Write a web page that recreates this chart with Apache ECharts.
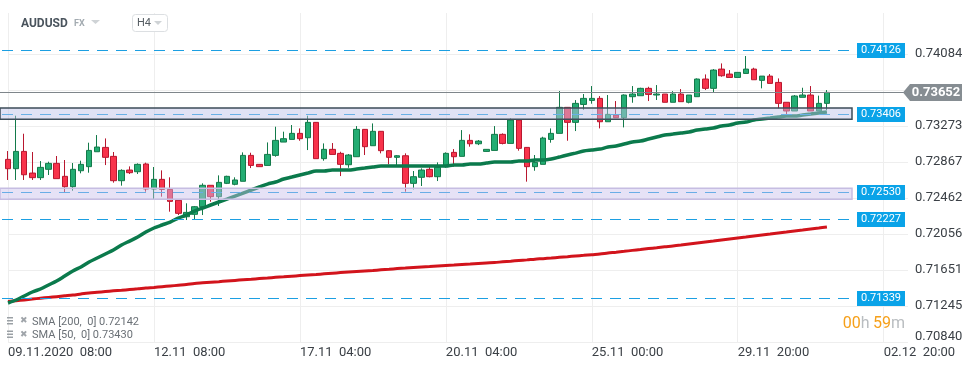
<!DOCTYPE html>
<html>
<head>
<meta charset="utf-8">
<script src="https://cdn.jsdelivr.net/npm/echarts@6/dist/echarts.min.js"></script>
<style>
html,body{margin:0;padding:0;background:#fff;}
#chart{width:974px;height:368px;}
</style>
</head>
<body>
<div id="chart"></div>
<script>
// ---------- DATA ----------
const categories = [
  "09.11 08:00","09.11 12:00","09.11 16:00","09.11 20:00",
  "10.11 00:00","10.11 04:00","10.11 08:00","10.11 12:00","10.11 16:00","10.11 20:00",
  "11.11 00:00","11.11 04:00","11.11 08:00","11.11 12:00","11.11 16:00","11.11 20:00",
  "12.11 00:00","12.11 04:00","12.11 08:00","12.11 12:00","12.11 16:00","12.11 20:00",
  "13.11 00:00","13.11 04:00","13.11 08:00","13.11 12:00","13.11 16:00","13.11 20:00",
  "15.11 20:00",
  "16.11 00:00","16.11 04:00","16.11 08:00","16.11 12:00","16.11 16:00","16.11 20:00",
  "17.11 00:00","17.11 04:00","17.11 08:00","17.11 12:00","17.11 16:00","17.11 20:00",
  "18.11 00:00","18.11 04:00","18.11 08:00","18.11 12:00","18.11 16:00","18.11 20:00",
  "19.11 00:00","19.11 04:00","19.11 08:00","19.11 12:00","19.11 16:00","19.11 20:00",
  "20.11 00:00","20.11 04:00","20.11 08:00","20.11 12:00","20.11 16:00","20.11 20:00",
  "22.11 20:00",
  "23.11 00:00","23.11 04:00","23.11 08:00","23.11 12:00","23.11 16:00","23.11 20:00",
  "24.11 00:00","24.11 04:00","24.11 08:00","24.11 12:00","24.11 16:00","24.11 20:00",
  "25.11 00:00","25.11 04:00","25.11 08:00","25.11 12:00","25.11 16:00","25.11 20:00",
  "26.11 00:00","26.11 04:00","26.11 08:00","26.11 12:00","26.11 16:00","26.11 20:00",
  "27.11 00:00","27.11 04:00","27.11 08:00","27.11 12:00","27.11 16:00","27.11 20:00",
  "29.11 20:00",
  "30.11 00:00","30.11 04:00","30.11 08:00","30.11 12:00","30.11 16:00","30.11 20:00",
  "01.12 00:00","01.12 04:00","01.12 08:00","01.12 12:00","01.12 16:00","01.12 20:00",
  "02.12 00:00","02.12 04:00","02.12 08:00","02.12 12:00","02.12 16:00","02.12 20:00",
  "03.12 00:00","03.12 04:00","03.12 08:00"
];
const firstLabel = "09.11.2020  08:00";

const opens = [
  0.72897,0.72792,0.72987,0.72743,0.72691,0.72785,0.72852,0.72706,0.72589,0.72769,
  0.72815,0.72983,0.73032,0.72931,0.72657,0.72777,0.72758,0.72845,0.72563,0.72672,
  0.72559,0.72436,0.72251,0.72278,0.72364,0.72605,0.72477,0.72627,0.72616,0.72650,
  0.72942,0.72841,0.72829,0.72942,0.73092,0.73122,0.73190,0.73141,0.73314,0.72905,
  0.73010,0.72965,0.72837,0.72927,0.73235,0.73051,0.73213,0.72995,0.72920,0.72938,
  0.72627,0.72695,0.72785,0.72702,0.72815,0.72976,0.72931,0.73111,0.73073,0.72987,
  0.72998,0.73179,0.73077,0.73340,0.73032,0.72815,0.72841,0.73122,0.73190,0.73483,
  0.73314,0.73516,0.73561,0.73584,0.73321,0.73396,0.73366,0.73603,0.73614,0.73697,
  0.73622,0.73633,0.73540,0.73633,0.73540,0.73603,0.73802,0.73697,0.73914,0.73858,
  0.73820,0.73865,0.73914,0.73787,0.73835,0.73764,0.73540,0.73442,0.73596,0.73622,
  0.73442,0.73528
];
const closes = [
  0.72792,0.72987,0.72724,0.72691,0.72807,0.72852,0.72680,0.72589,0.72785,0.72841,
  0.72998,0.73036,0.72920,0.72657,0.72773,0.72747,0.72841,0.72563,0.72672,0.72559,
  0.72424,0.72289,0.72300,0.72364,0.72605,0.72477,0.72638,0.72706,0.72665,0.72942,
  0.72829,0.72815,0.72953,0.73111,0.73130,0.73190,0.73130,0.73314,0.72905,0.73010,
  0.72953,0.72841,0.72946,0.73235,0.73040,0.73213,0.72995,0.72920,0.72938,0.72627,
  0.72702,0.72777,0.72702,0.72807,0.72965,0.72927,0.73111,0.73073,0.73103,0.73010,
  0.73179,0.73077,0.73340,0.73021,0.72815,0.72863,0.73137,0.73190,0.73483,0.73314,
  0.73528,0.73584,0.73584,0.73321,0.73404,0.73366,0.73622,0.73633,0.73697,0.73629,
  0.73633,0.73540,0.73633,0.73547,0.73622,0.73802,0.73697,0.73903,0.73839,0.73820,
  0.73877,0.73914,0.73794,0.73835,0.73753,0.73528,0.73442,0.73611,0.73622,0.73442,
  0.73528,0.73652
];
const lows = [
  0.72665,0.72665,0.72665,0.72665,0.72665,0.72721,0.72680,0.72526,0.72544,0.72740,
  0.72747,0.72983,0.72833,0.72635,0.72601,0.72732,0.72732,0.72533,0.72451,0.72477,
  0.72308,0.72270,0.72214,0.72225,0.72270,0.72420,0.72372,0.72619,0.72605,0.72650,
  0.72799,0.72815,0.72829,0.72927,0.73092,0.73122,0.73107,0.73002,0.72905,0.72882,
  0.72953,0.72709,0.72803,0.72927,0.72946,0.73051,0.72965,0.72841,0.72833,0.72533,
  0.72559,0.72597,0.72695,0.72653,0.72803,0.72815,0.72931,0.73040,0.73058,0.72983,
  0.72998,0.73066,0.73077,0.72995,0.72646,0.72769,0.72841,0.73085,0.73190,0.73107,
  0.73216,0.73456,0.73524,0.73246,0.73321,0.73366,0.73257,0.73535,0.73614,0.73554,
  0.73566,0.73540,0.73540,0.73547,0.73528,0.73603,0.73678,0.73648,0.73828,0.73820,
  0.73820,0.73865,0.73794,0.73697,0.73753,0.73472,0.73396,0.73442,0.73596,0.73442,
  0.73442,0.73453
];
const highs = [
  0.72991,0.73389,0.73186,0.72980,0.72878,0.72871,0.72935,0.72890,0.72856,0.72882,
  0.73085,0.73171,0.73133,0.72980,0.72785,0.72818,0.72852,0.72860,0.72811,0.72773,
  0.72695,0.72436,0.72402,0.72372,0.72627,0.72605,0.72717,0.72713,0.72695,0.72976,
  0.72972,0.72845,0.73088,0.73265,0.73209,0.73284,0.73246,0.73389,0.73317,0.73077,
  0.73081,0.72983,0.72957,0.73272,0.73239,0.73302,0.73216,0.73002,0.72946,0.72965,
  0.72766,0.72796,0.72833,0.72863,0.72976,0.73013,0.73227,0.73179,0.73115,0.73013,
  0.73272,0.73190,0.73359,0.73344,0.73036,0.72946,0.73152,0.73246,0.73667,0.73486,
  0.73565,0.73633,0.73723,0.73610,0.73622,0.73554,0.73629,0.73723,0.73704,0.73715,
  0.73734,0.73633,0.73666,0.73689,0.73622,0.73809,0.73854,0.73914,0.73978,0.73903,
  0.73877,0.74061,0.73929,0.73835,0.73858,0.73809,0.73540,0.73622,0.73704,0.73723,
  0.73615,0.73678
];
const sma50 = [
  0.71279,0.71313,0.71358,0.71403,0.71437,0.71482,0.71527,0.71583,0.71640,0.71685,
  0.71741,0.71786,0.71831,0.71876,0.71932,0.71977,0.72022,0.72079,0.72124,0.72158,
  0.72191,0.72236,0.72270,0.72315,0.72349,0.72383,0.72417,0.72450,0.72484,0.72518,
  0.72552,0.72586,0.72619,0.72642,0.72676,0.72698,0.72721,0.72743,0.72766,0.72766,
  0.72777,0.72777,0.72777,0.72788,0.72799,0.72811,0.72822,0.72822,0.72822,0.72822,
  0.72822,0.72822,0.72822,0.72822,0.72822,0.72833,0.72833,0.72844,0.72844,0.72856,
  0.72867,0.72867,0.72867,0.72878,0.72878,0.72890,0.72890,0.72901,0.72923,0.72946,
  0.72968,0.72991,0.73002,0.73013,0.73036,0.73047,0.73070,0.73092,0.73103,0.73126,
  0.73149,0.73171,0.73182,0.73194,0.73205,0.73227,0.73239,0.73250,0.73272,0.73284,
  0.73306,0.73317,0.73340,0.73351,0.73362,0.73374,0.73385,0.73385,0.73396,0.73407,
  0.73419,0.73430
];
const sma200 = [
  0.71296,0.71305,0.71314,0.71324,0.71333,0.71342,0.71351,0.71360,0.71369,0.71381,
  0.71392,0.71400,0.71408,0.71416,0.71423,0.71431,0.71439,0.71448,0.71455,0.71463,
  0.71471,0.71479,0.71487,0.71500,0.71507,0.71514,0.71520,0.71527,0.71534,0.71541,
  0.71547,0.71554,0.71561,0.71568,0.71574,0.71581,0.71588,0.71595,0.71601,0.71608,
  0.71615,0.71622,0.71628,0.71634,0.71640,0.71646,0.71653,0.71660,0.71667,0.71673,
  0.71679,0.71685,0.71690,0.71696,0.71702,0.71707,0.71713,0.71718,0.71724,0.71730,
  0.71735,0.71743,0.71750,0.71758,0.71765,0.71773,0.71779,0.71786,0.71794,0.71801,
  0.71809,0.71816,0.71824,0.71831,0.71842,0.71851,0.71861,0.71872,0.71882,0.71892,
  0.71902,0.71912,0.71921,0.71932,0.71944,0.71955,0.71966,0.71977,0.71989,0.72000,
  0.72011,0.72022,0.72034,0.72045,0.72056,0.72068,0.72079,0.72090,0.72101,0.72113,
  0.72124,0.72135
];
const priceTicks = ["0.70840","0.71245","0.71651","0.72056","0.72462","0.72867","0.73273","0.73678","0.74084"];
const hiddenTick = "0.73678";
const levelLines = [0.74126, 0.73406, 0.72530, 0.72227, 0.71339];
const levelLabels = ["0.74126","0.73406","0.72530","0.72227","0.71339"];
const zoneUpper = [0.73348, 0.73475];
const zoneLower = [0.72447, 0.72571];
const lastPrice = 0.73652;
const lastPriceLabel = "0.73652";
const legendRows = ["SMA [200,  0] 0.72142", "SMA [50,  0] 0.73430"];

// ---------- AXIS MAPPING ----------
const AX_MIN = parseFloat(priceTicks[0]);
const AX_STEP = (parseFloat(priceTicks[8]) - AX_MIN) / 8;
const toU = v => (v - AX_MIN) / AX_STEP;

const GRID = {left: 8, top: 13, width: 900, height: 329};
const PX_PER_TICK = 36;
const Y_MAX = GRID.height / PX_PER_TICK;

const candleData = opens.map((o, i) => [toU(o), toU(closes[i]), toU(lows[i]), toU(highs[i])]);

const chart = echarts.init(document.getElementById('chart'), null, {renderer: 'canvas'});
const FONT = 'Roboto, "Noto Sans", sans-serif';

const splitColors = [];
for (let i = 0; i <= 8; i++) splitColors.push('#eeeeee');
splitColors.push('rgba(0,0,0,0)', 'rgba(0,0,0,0)', 'rgba(0,0,0,0)');

chart.setOption({
  animation: false,
  backgroundColor: '#ffffff',
  grid: GRID,
  xAxis: {
    type: 'category',
    data: categories,
    boundaryGap: false,
    axisLine: {show: false},
    axisTick: {show: false},
    axisLabel: {
      interval: 17,
      align: 'left',
      margin: 4,
      color: '#3b4046',
      fontSize: 13,
      fontFamily: FONT,
      formatter: (val, idx) => idx === 0 ? firstLabel : val.replace(' ', '  ')
    },
    splitLine: {show: true, interval: 17, lineStyle: {color: '#eeeeee', width: 1}}
  },
  yAxis: {
    type: 'value',
    position: 'right',
    min: 0,
    max: Y_MAX,
    interval: 1,
    axisLine: {show: false},
    axisTick: {show: false},
    axisLabel: {
      margin: 7,
      color: '#3b4046',
      fontSize: 13,
      fontFamily: FONT,
      formatter: val => {
        const r = Math.round(val);
        if (Math.abs(val - r) > 1e-6) return '';
        const t = priceTicks[r];
        if (!t || t === hiddenTick) return '';
        return r === 0 ? '{low|' + t + '}' : t;
      },
      rich: {low: {fontSize: 13, fontFamily: FONT, color: '#3b4046', padding: [0, 0, 10, 0]}}
    },
    splitLine: {show: true, lineStyle: {color: splitColors, width: 1}}
  },
  series: [
    {
      type: 'candlestick',
      data: candleData,
      barWidth: 6,
      clip: false,
      z: 3,
      itemStyle: {
        color: '#23ad73',
        color0: '#f8334b',
        borderColor: '#137a4a',
        borderColor0: '#b8172f',
        borderWidth: 1
      }
    },
    {
      type: 'line',
      data: sma200.map(toU),
      smooth: 0.3,
      symbol: 'none',
      z: 4,
      lineStyle: {color: '#d2141c', width: 3}
    },
    {
      type: 'line',
      data: sma50.map(toU),
      smooth: 0.3,
      symbol: 'none',
      z: 4,
      lineStyle: {color: '#0b7a4c', width: 3.5}
    }
  ]
});

// ---------- OVERLAYS (positions through the chart's own y scale) ----------
const py = v => chart.convertToPixel({yAxisIndex: 0}, toU(v));
const elements = [];
const RIGHT_END = 852;

levelLines.forEach((lv, i) => {
  const y = Math.round(py(lv)) + 0.5;
  elements.push({
    type: 'line', z: 50, silent: true,
    shape: {x1: 2, y1: y, x2: RIGHT_END, y2: y},
    style: {stroke: '#1c9fe2', lineWidth: 1, lineDash: [11, 8]}
  });
  elements.push({
    type: 'rect', z: 120, silent: true,
    shape: {x: 857, y: y - 7.5, width: 48, height: 15},
    style: {fill: '#0aa3e8'}
  });
  elements.push({
    type: 'text', z: 121, silent: true,
    style: {x: 881, y: y, text: levelLabels[i], fill: '#ffffff', font: '11px ' + FONT, textAlign: 'center', textVerticalAlign: 'middle'}
  });
});

[[zoneUpper, 'rgba(190,195,232,0.48)', '#3d4c58'], [zoneLower, 'rgba(200,190,235,0.45)', '#c6bde2']].forEach(([z, fill, stroke]) => {
  const yTop = py(z[1]), yBot = py(z[0]);
  elements.push({
    type: 'rect', z: 100, silent: true,
    shape: {x: 0, y: yTop, width: RIGHT_END, height: yBot - yTop},
    style: {fill: fill, stroke: stroke, lineWidth: 1.5}
  });
});

// last price line and tag
const yp = Math.round(py(lastPrice)) + 0.5;
elements.push({
  type: 'line', z: 60, silent: true,
  shape: {x1: 0, y1: yp, x2: 904, y2: yp},
  style: {stroke: '#7f868b', lineWidth: 1}
});
elements.push({
  type: 'polygon', z: 130, silent: true,
  shape: {points: [[903, yp], [910, yp - 8.5], [962, yp - 8.5], [962, yp + 8.5], [910, yp + 8.5]]},
  style: {fill: '#868d92'}
});
elements.push({
  type: 'text', z: 131, silent: true,
  style: {x: 936, y: yp, text: lastPriceLabel, fill: '#ffffff', font: 'bold 13px ' + FONT, textAlign: 'center', textVerticalAlign: 'middle'}
});

// header
elements.push(
  {type: 'text', z: 200, silent: true, style: {x: 21, y: 24, text: 'AUDUSD', fill: '#4a545d', font: 'bold 12px ' + FONT, textVerticalAlign: 'middle'}},
  {type: 'text', z: 200, silent: true, style: {x: 74, y: 24, text: 'FX', fill: '#a3abb1', font: 'bold 9px ' + FONT, textVerticalAlign: 'middle'}},
  {type: 'polygon', z: 200, silent: true, shape: {points: [[91, 20], [100, 20], [95.5, 24]]}, style: {fill: '#cfd3d6'}},
  {type: 'rect', z: 200, silent: true, shape: {x: 132.5, y: 14.5, width: 35, height: 17, r: 3}, style: {fill: '#ffffff', stroke: '#dcdfe2', lineWidth: 1}},
  {type: 'text', z: 201, silent: true, style: {x: 137, y: 23.5, text: 'H4', fill: '#555c62', font: '11px ' + FONT, textVerticalAlign: 'middle'}},
  {type: 'polygon', z: 201, silent: true, shape: {points: [[154, 21], [162, 21], [158, 25]]}, style: {fill: '#cfd3d6'}}
);

// legend rows
legendRows.forEach((t, i) => {
  const y = 321 + i * 13.5;
  elements.push(
    {type: 'rect', z: 200, silent: true, shape: {x: 7, y: y - 4, width: 6, height: 1.5}, style: {fill: '#9aa0a5'}},
    {type: 'rect', z: 200, silent: true, shape: {x: 7, y: y - 1, width: 6, height: 1.5}, style: {fill: '#9aa0a5'}},
    {type: 'rect', z: 200, silent: true, shape: {x: 7, y: y + 2, width: 6, height: 1.5}, style: {fill: '#9aa0a5'}},
    {type: 'text', z: 200, silent: true, style: {x: 20, y: y, text: '✖', fill: '#a0a5aa', font: '9px "DejaVu Sans"', textVerticalAlign: 'middle'}},
    {type: 'text', z: 200, silent: true, style: {x: 32, y: y + 1, text: t, fill: '#6a7076', font: '11px ' + FONT, textVerticalAlign: 'middle'}}
  );
});

// countdown
elements.push({
  type: 'text', z: 200, silent: true,
  style: {
    x: 905, y: 324, text: '{o|00}{g|h} {o|59}{g|m}', textAlign: 'right', textVerticalAlign: 'middle',
    rich: {
      o: {fill: '#f6a01a', font: '16px ' + FONT},
      g: {fill: '#b9bdc0', font: '16px ' + FONT}
    }
  }
});

chart.setOption({graphic: {elements: elements}});
</script>
</body>
</html>
